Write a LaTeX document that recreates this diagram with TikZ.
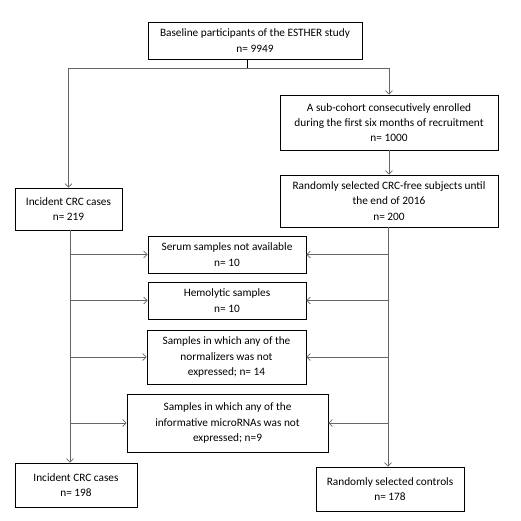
\documentclass[tikz,border=0pt]{standalone}
\usepackage{fontspec}
\setmainfont{Carlito}
\usetikzlibrary{arrows.meta}

\tikzset{
  box/.style={draw, line width=0.8pt, align=center, inner sep=1pt,
    font=\fontsize{11.3}{15.3}\selectfont},
  arr/.style={-{Straight Barb[length=3.5pt,width=7pt]}, line width=0.7pt, draw=black!60}
}

\begin{document}
\begin{tikzpicture}[x=1pt,y=-1pt]
    \useasboundingbox (0,0) rectangle (521,521);
        \node[box, minimum width=214pt, minimum height=37pt] (base) at (255,40.5) {Baseline participants of the ESTHER study\\ n= 9949};
        \node[box, minimum width=218pt, minimum height=55pt] (sub) at (389,122.5) {A sub-cohort consecutively enrolled\\ during the first six months of recruitment\\ n= 1000};
        \node[box, minimum width=218pt, minimum height=52pt] (rand) at (389,201) {Randomly selected CRC-free subjects until\\ the end of 2016\\ n= 200};
        \node[box, minimum width=107pt, minimum height=42pt] (inc) at (68.5,209) {Incident CRC cases\\ n= 219};
        \node[box, minimum width=158pt, minimum height=37pt] (serum) at (227,254.5) {Serum samples not available\\ n= 10};
        \node[box, minimum width=158pt, minimum height=37pt] (hemo) at (227,300.5) {Hemolytic samples\\ n= 10};
        \node[box, minimum width=159pt, minimum height=54pt] (norm) at (226.5,357) {Samples in which any of the\\ normalizers was not\\ expressed; n= 14};
        \node[box, minimum width=201pt, minimum height=58pt] (micro) at (227.5,423) {Samples in which any of the\\ informative microRNAs was not\\ expressed; n=9};
        \node[box, minimum width=122pt, minimum height=44pt] (incf) at (76,485) {Incident CRC cases\\ n= 198};
        \node[box, minimum width=148pt, minimum height=44pt] (ctrl) at (390,489) {Randomly selected controls\\ n= 178};
        \coordinate (split) at (247,68);
        \coordinate (L) at (70,230);
        \coordinate (R) at (388,227);
        \draw[line width=0.7pt] (split |- base.south)--(split);
        \draw[arr] (split) -| (inc.north);
        \draw[arr] (split) -| (sub.north);
        \draw[arr] (sub)--(rand);
        \draw[arr] (L)--(L |- incf.north);
        \draw[arr] (R)--(R |- ctrl.north);
        \foreach \b in {serum,hemo,norm,micro}{
            \draw[arr] (L |- \b.west)--(\b.west);
            \draw[arr] (R |- \b.east)--(\b.east);
        }
    \end{tikzpicture}
\end{document}
